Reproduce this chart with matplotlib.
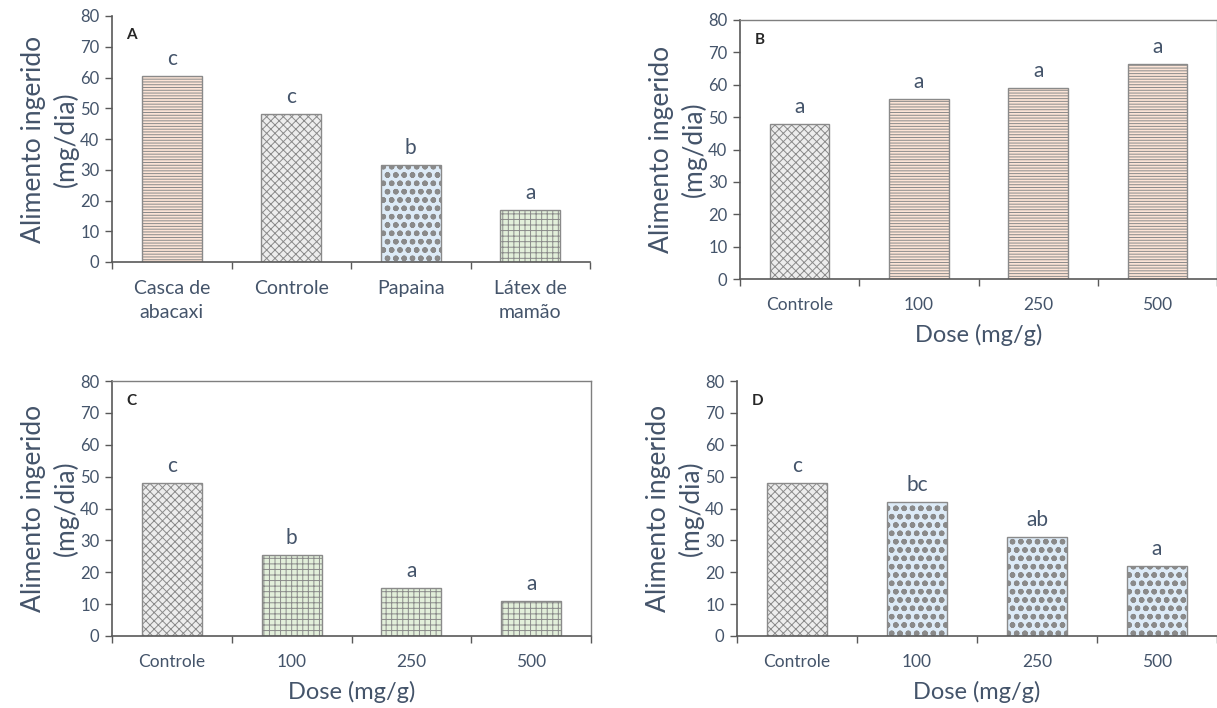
import matplotlib
matplotlib.use("Agg")
import matplotlib.pyplot as plt
from matplotlib.ticker import FixedLocator

plt.rcParams['font.family'] = ['Lato', 'DejaVu Sans']

# ---------------- data ----------------
cats_A = ["Casca de\nabacaxi", "Controle", "Papaina", "Látex de\nmamão"]
vals_A = [60.5, 48.0, 31.5, 17.0]
lets_A = ["c", "c", "b", "a"]

doses = ["Controle", "100", "250", "500"]
vals_B = [48.0, 55.5, 59.0, 66.5]
lets_B = ["a", "a", "a", "a"]
vals_C = [48.0, 25.5, 15.0, 11.0]
lets_C = ["c", "b", "a", "a"]
vals_D = [48.0, 42.0, 31.0, 22.0]
lets_D = ["c", "bc", "ab", "a"]

ylabel = "Alimento ingerido\n(mg/dia)"
xlabel = "Dose (mg/g)"

# styles: (facecolor, hatch)
S_CASCA = ("#FCE4D6", "------")
S_CTRL = ("#EDEDED", "xxxx")
S_PAP = ("#DDEBF7", "oo")
S_LATEX = ("#E2EFDA", "+++")

styles_A = [S_CASCA, S_CTRL, S_PAP, S_LATEX]
styles_B = [S_CTRL, S_CASCA, S_CASCA, S_CASCA]
styles_C = [S_CTRL, S_LATEX, S_LATEX, S_LATEX]
styles_D = [S_CTRL, S_PAP, S_PAP, S_PAP]

TXT = "#44546A"
AXC = "#595959"

W, H = 1217, 708
fig = plt.figure(figsize=(W / 100, H / 100), dpi=100)


def px_axes(l, r, t, b):
    return fig.add_axes([l / W, 1 - b / H, (r - l) / W, (b - t) / H])


def panel(ax, cats, vals, lets, styles, tag, xl=None, xfs=12.5, frame=False):
    x = list(range(len(vals)))
    for xi, v, (fc, h) in zip(x, vals, styles):
        lw = 1.6 if h == "oo" else 0.7
        plt.rcParams['hatch.linewidth'] = lw
        bar = ax.bar(xi, v, width=0.5, color=fc, edgecolor="#8a8a8a",
                     hatch=h, linewidth=1.0, zorder=2)
        for p in bar:
            try:
                p.set_hatch_linewidth(lw)
            except Exception:
                pass
    plt.rcParams['hatch.linewidth'] = 0.7
    for xi, v, lt in zip(x, vals, lets):
        ax.annotate(lt, (xi, v), xytext=(0, 5), textcoords="offset points",
                    ha="center", va="bottom", fontsize=15, color=TXT)
    ax.set_xlim(-0.5, len(vals) - 0.5)
    ax.set_ylim(0, 80)
    ax.set_yticks(range(0, 81, 10))
    ax.xaxis.set_major_locator(FixedLocator([i - 0.5 for i in range(len(vals) + 1)]))
    ax.xaxis.set_minor_locator(FixedLocator(x))
    ax.set_xticklabels([])
    ax.set_xticklabels(cats, minor=True, linespacing=1.5)
    ax.tick_params(axis="x", which="major", length=5, width=1, color=AXC, direction="out")
    ax.tick_params(axis="x", which="minor", length=0, pad=13, labelsize=xfs, labelcolor=TXT)
    ax.tick_params(axis="y", length=5, width=1, color=AXC, labelsize=12, labelcolor=TXT, pad=4)
    for s in ("left", "bottom"):
        ax.spines[s].set_color(AXC)
        ax.spines[s].set_linewidth(1.2)
    for s in ("top", "right"):
        if frame:
            ax.spines[s].set_color("#7f7f7f")
            ax.spines[s].set_linewidth(1.0)
        else:
            ax.spines[s].set_visible(False)
    ax.set_ylabel(ylabel, fontsize=19, color=TXT, labelpad=1, linespacing=1.3)
    if xl:
        ax.set_xlabel(xl, fontsize=17, color=TXT, labelpad=8)
    ax.text(0.03, 0.95, tag, transform=ax.transAxes, fontsize=11, fontweight="bold",
            color="#262626", ha="left", va="top")


axA = px_axes(112, 590, 16, 262)
axB = px_axes(740, 1217, 20, 279)
axC = px_axes(112, 591, 381, 636)
axD = px_axes(737, 1217, 381, 636)

panel(axA, cats_A, vals_A, lets_A, styles_A, "A", xfs=14)
panel(axB, doses, vals_B, lets_B, styles_B, "B", xl=xlabel, frame=True)
panel(axC, doses, vals_C, lets_C, styles_C, "C", xl=xlabel, frame=True)
panel(axD, doses, vals_D, lets_D, styles_D, "D", xl=xlabel)

fig.savefig("out.png", dpi=100)
